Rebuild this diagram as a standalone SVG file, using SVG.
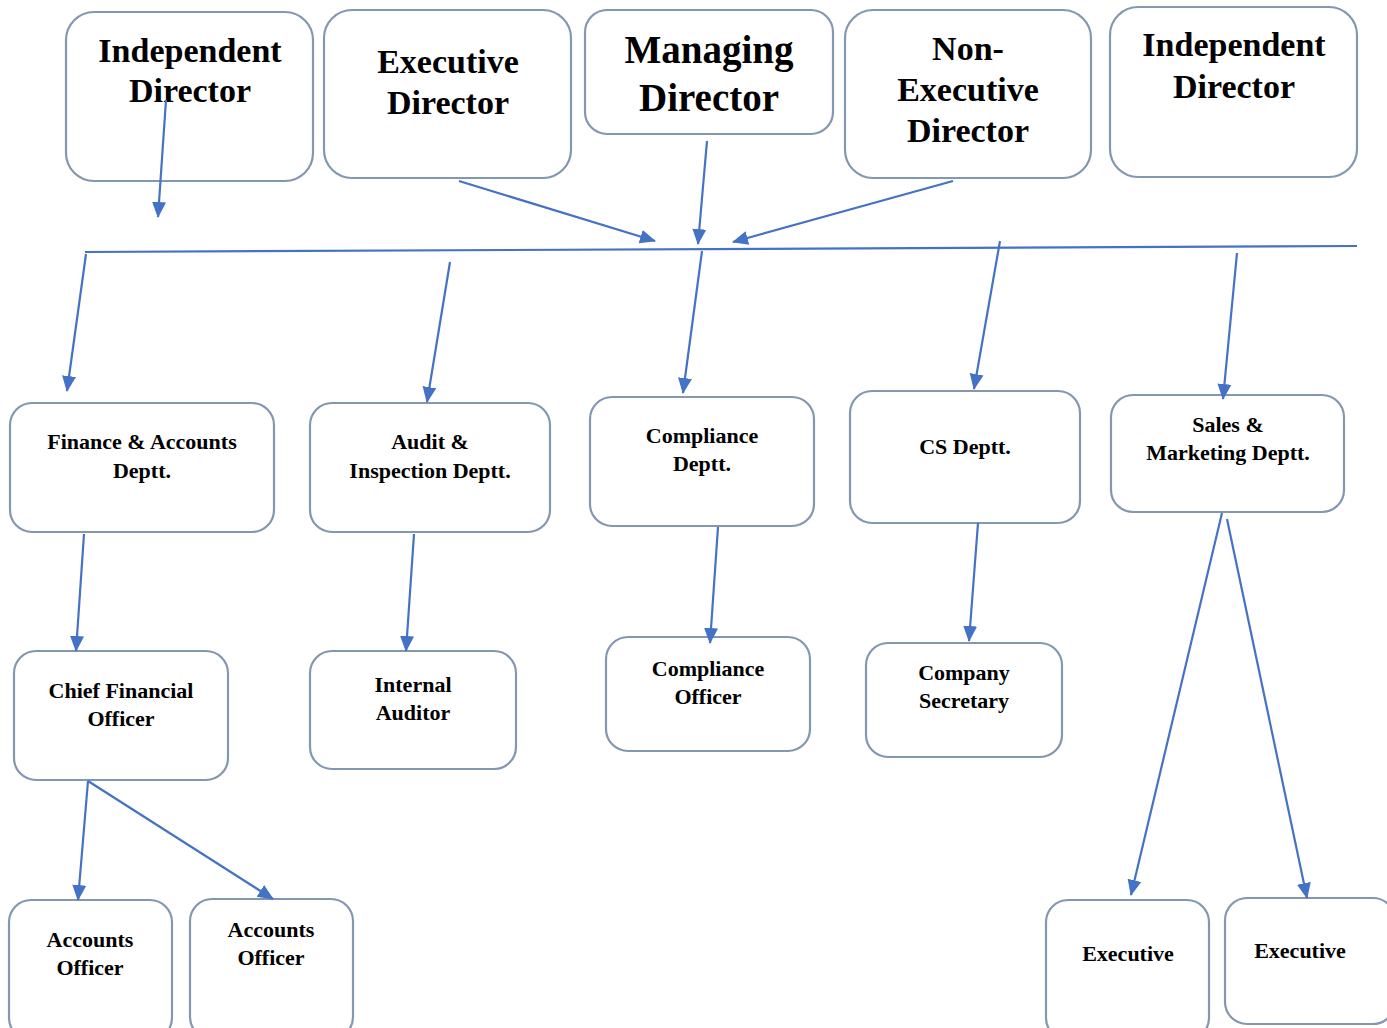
<svg xmlns="http://www.w3.org/2000/svg" width="1387" height="1028" viewBox="0 0 1387 1028">
<style>
.box{fill:#fff;stroke:#8497b0;stroke-width:2.2}
.t{font-family:"Liberation Serif","DejaVu Serif",serif;font-weight:bold;fill:#000;text-anchor:middle}
.big{font-size:34px}
.md{font-size:39px}
.sm{font-size:22px}
.c{stroke:#4472c4;stroke-width:2.2;fill:none}
</style>
<defs>
<marker id="ah" markerUnits="userSpaceOnUse" markerWidth="16" markerHeight="16" viewBox="0 0 16 16" refX="15" refY="8" orient="auto">
<path d="M0,1 L16,8 L0,15 Z" fill="#4472c4"/>
</marker>
</defs>
<rect width="1387" height="1028" fill="#fff"/>
<g id="n-indep-left"><rect class="box" x="66" y="12" width="247" height="169" rx="28"/><text class="t big" x="190" y="62">Independent</text><text class="t big" x="190" y="102">Director</text></g>
<g id="n-exec-dir"><rect class="box" x="324" y="10" width="247" height="168" rx="28"/><text class="t big" x="448" y="73">Executive</text><text class="t big" x="448" y="114">Director</text></g>
<g id="n-md"><rect class="box" x="585" y="10" width="248" height="124" rx="22"/><text class="t md" x="709" y="63">Managing</text><text class="t md" x="709" y="111">Director</text></g>
<g id="n-nonexec"><rect class="box" x="845" y="10" width="246" height="168" rx="28"/><text class="t big" x="968" y="60">Non-</text><text class="t big" x="968" y="101">Executive</text><text class="t big" x="968" y="142">Director</text></g>
<g id="n-indep-right"><rect class="box" x="1110" y="7" width="247" height="170" rx="28"/><text class="t big" x="1234" y="56">Independent</text><text class="t big" x="1234" y="98">Director</text></g>
<g id="n-finance"><rect class="box" x="10" y="403" width="264" height="129" rx="22"/><text class="t sm" x="142" y="449">Finance &amp; Accounts</text><text class="t sm" x="142" y="478">Deptt.</text></g>
<g id="n-audit"><rect class="box" x="310" y="403" width="240" height="129" rx="22"/><text class="t sm" x="430" y="449">Audit &amp;</text><text class="t sm" x="430" y="478">Inspection Deptt.</text></g>
<g id="n-compliance"><rect class="box" x="590" y="397" width="224" height="129" rx="22"/><text class="t sm" x="702" y="443">Compliance</text><text class="t sm" x="702" y="471">Deptt.</text></g>
<g id="n-cs"><rect class="box" x="850" y="391" width="230" height="132" rx="22"/><text class="t sm" x="965" y="454">CS Deptt.</text></g>
<g id="n-sales"><rect class="box" x="1111" y="395" width="233" height="117" rx="22"/><text class="t sm" x="1228" y="432">Sales &amp;</text><text class="t sm" x="1228" y="460">Marketing Deptt.</text></g>
<g id="n-cfo"><rect class="box" x="14" y="651" width="214" height="129" rx="22"/><text class="t sm" x="121" y="698">Chief Financial</text><text class="t sm" x="121" y="726">Officer</text></g>
<g id="n-ia"><rect class="box" x="310" y="651" width="206" height="118" rx="22"/><text class="t sm" x="413" y="692">Internal</text><text class="t sm" x="413" y="720">Auditor</text></g>
<g id="n-co"><rect class="box" x="606" y="637" width="204" height="114" rx="22"/><text class="t sm" x="708" y="676">Compliance</text><text class="t sm" x="708" y="704">Officer</text></g>
<g id="n-secretary"><rect class="box" x="866" y="643" width="196" height="114" rx="22"/><text class="t sm" x="964" y="680">Company</text><text class="t sm" x="964" y="708">Secretary</text></g>
<g id="n-ao1"><rect class="box" x="9" y="900" width="163" height="140" rx="22"/><text class="t sm" x="90" y="947">Accounts</text><text class="t sm" x="90" y="975">Officer</text></g>
<g id="n-ao2"><rect class="box" x="190" y="899" width="163" height="140" rx="22"/><text class="t sm" x="271" y="937">Accounts</text><text class="t sm" x="271" y="965">Officer</text></g>
<g id="n-exec1"><rect class="box" x="1046" y="900" width="163" height="140" rx="22"/><text class="t sm" x="1128" y="961">Executive</text></g>
<g id="n-exec2"><rect class="box" x="1225" y="898" width="170" height="126" rx="22"/><text class="t sm" x="1300" y="958">Executive</text></g>
<g id="connectors">
<line class="c" x1="85" y1="252" x2="1357" y2="246" stroke-width="1.3"/>
<line class="c" x1="166" y1="100" x2="158" y2="217" marker-end="url(#ah)"/>
<line class="c" x1="459" y1="181" x2="655" y2="241" marker-end="url(#ah)"/>
<line class="c" x1="707" y1="141" x2="698" y2="244" marker-end="url(#ah)"/>
<line class="c" x1="953" y1="181" x2="733" y2="242" marker-end="url(#ah)"/>
<line class="c" x1="86" y1="254" x2="67" y2="391" marker-end="url(#ah)"/>
<line class="c" x1="450" y1="262" x2="427" y2="402" marker-end="url(#ah)"/>
<line class="c" x1="702" y1="251" x2="683" y2="393" marker-end="url(#ah)"/>
<line class="c" x1="1000" y1="241" x2="974" y2="389" marker-end="url(#ah)"/>
<line class="c" x1="1237" y1="253" x2="1223" y2="399" marker-end="url(#ah)"/>
<line class="c" x1="84" y1="534" x2="76" y2="651" marker-end="url(#ah)"/>
<line class="c" x1="414" y1="534" x2="406" y2="651" marker-end="url(#ah)"/>
<line class="c" x1="718" y1="527" x2="710" y2="643" marker-end="url(#ah)"/>
<line class="c" x1="978" y1="523" x2="969" y2="641" marker-end="url(#ah)"/>
<line class="c" x1="88" y1="781" x2="78" y2="900" marker-end="url(#ah)"/>
<line class="c" x1="88" y1="781" x2="273" y2="899" marker-end="url(#ah)"/>
<line class="c" x1="1222" y1="513" x2="1131" y2="895" marker-end="url(#ah)"/>
<line class="c" x1="1227" y1="519" x2="1307" y2="898" marker-end="url(#ah)"/>
</g>
</svg>
